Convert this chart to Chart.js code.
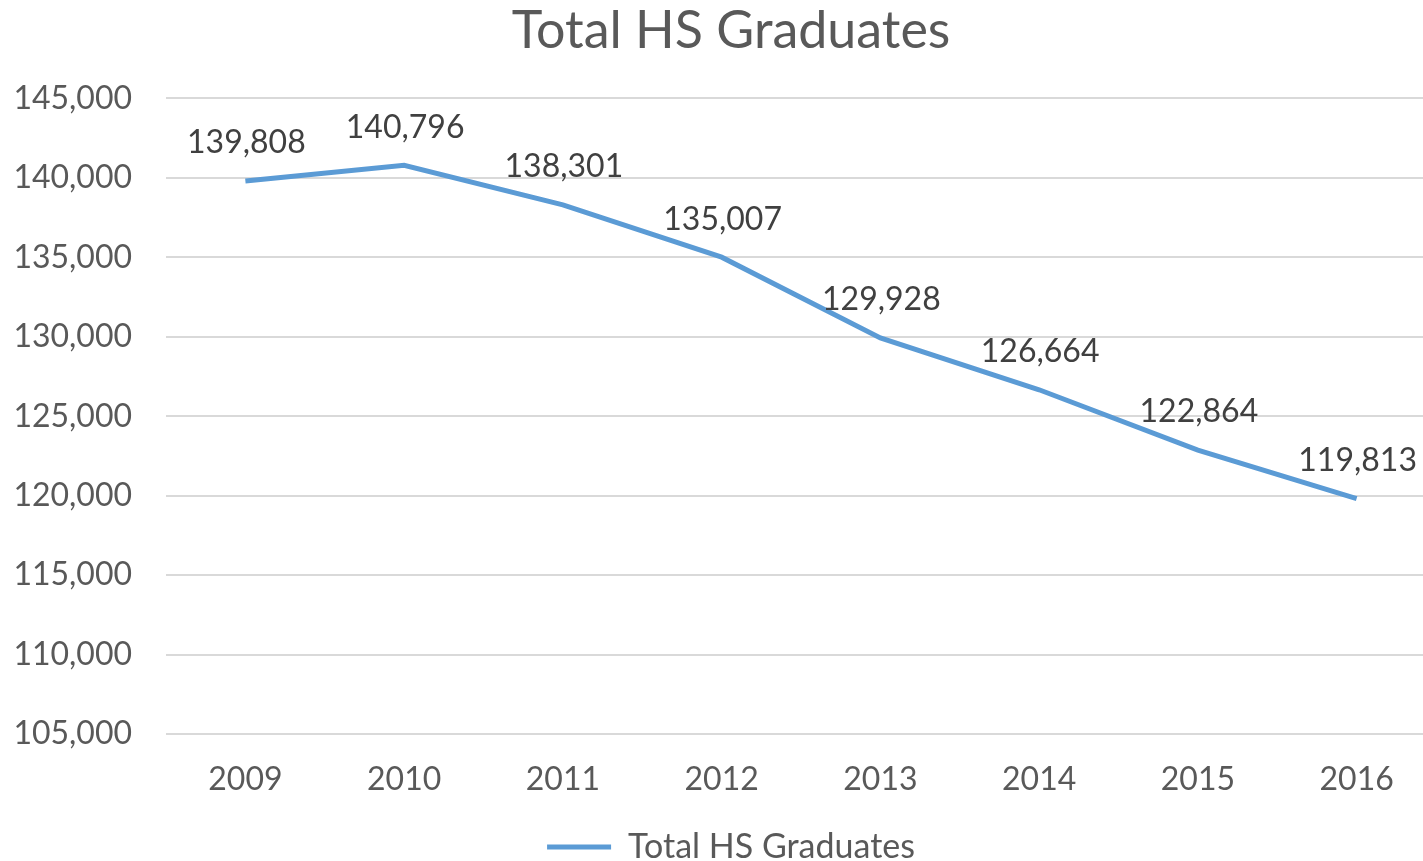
<!DOCTYPE html>
<html>
<head>
<meta charset="utf-8">
<script src="https://cdn.jsdelivr.net/npm/chart.js@4.4.0/dist/chart.umd.min.js"></script>
<style>
  html, body { margin: 0; padding: 0; background: #fff; overflow: hidden; }
  #wrap { width: 1423px; height: 861px; overflow: hidden; }
</style>
</head>
<body>
<div id="wrap"><canvas id="chart" width="1462" height="874"></canvas></div>
<script>
const years = ['2009', '2010', '2011', '2012', '2013', '2014', '2015', '2016'];
const graduates = [139808, 140796, 138301, 135007, 129928, 126664, 122864, 119813];

const blue = '#5b9bd5';
const FONT = 'Lato, "Open Sans", sans-serif';

// simple value labels above each point
const pointLabels = {
  id: 'pointLabels',
  afterDatasetsDraw(chart) {
    const ctx = chart.ctx;
    const meta = chart.getDatasetMeta(0);
    ctx.save();
    ctx.font = '32px ' + FONT;
    ctx.fillStyle = '#404040';
    ctx.textAlign = 'center';
    ctx.textBaseline = 'middle';
    meta.data.forEach((pt, i) => {
      ctx.fillText(graduates[i].toLocaleString('en-US'), pt.x + 1, pt.y - 38);
    });
    ctx.restore();
  }
};

const ctx = document.getElementById('chart');

const data = {
  labels: years,
  datasets: [
    {
      label: 'Total HS Graduates',
      data: graduates,
      borderColor: blue,
      backgroundColor: blue,
      borderWidth: 5,
      pointRadius: 0,
      tension: 0,
      fill: false
    }
  ]
};

const config = {
  type: 'line',
  data: data,
  plugins: [pointLabels],
  options: {
    responsive: false,
    animation: false,
    plugins: {
      title: {
        display: true,
        text: 'Total HS Graduates',
        color: '#595959',
        font: { family: FONT, size: 52, weight: 'normal' },
        padding: { top: 0, bottom: 36 }
      },
      legend: {
        position: 'bottom',
        labels: {
          color: '#595959',
          font: { family: FONT, size: 34 },
          boxWidth: 64,
          boxHeight: 5,
          padding: 0,
          generateLabels: (chart) => [{
            text: 'Total HS Graduates',
            fillStyle: blue,
            strokeStyle: blue,
            lineWidth: 0,
            fontColor: '#595959',
            datasetIndex: 0
          }]
        }
      },
      tooltip: { enabled: false }
    },
    scales: {
      x: {
        offset: true,
        afterFit: (scale) => { scale.height = 96; },
        grid: { display: false },
        border: { display: false },
        ticks: {
          color: '#595959',
          font: { family: FONT, size: 32 },
          padding: 18,
          maxRotation: 0
        }
      },
      y: {
        min: 105000,
        max: 145000,
        afterFit: (scale) => { scale.width = 166; },
        grid: { color: '#d9d9d9', lineWidth: 2, drawTicks: false },
        border: { display: false },
        ticks: {
          stepSize: 5000,
          color: '#595959',
          font: { family: FONT, size: 32 },
          padding: 34,
          callback: (v) => v.toLocaleString('en-US')
        }
      },
      // empty spacer on the right so the plot runs past the visible edge
      spacer: {
        position: 'right',
        afterFit: (scale) => { scale.width = 26; },
        grid: { display: false },
        border: { display: false },
        ticks: { display: false }
      }
    }
  }
};

const myChart = new Chart(ctx, config);
</script>
</body>
</html>
